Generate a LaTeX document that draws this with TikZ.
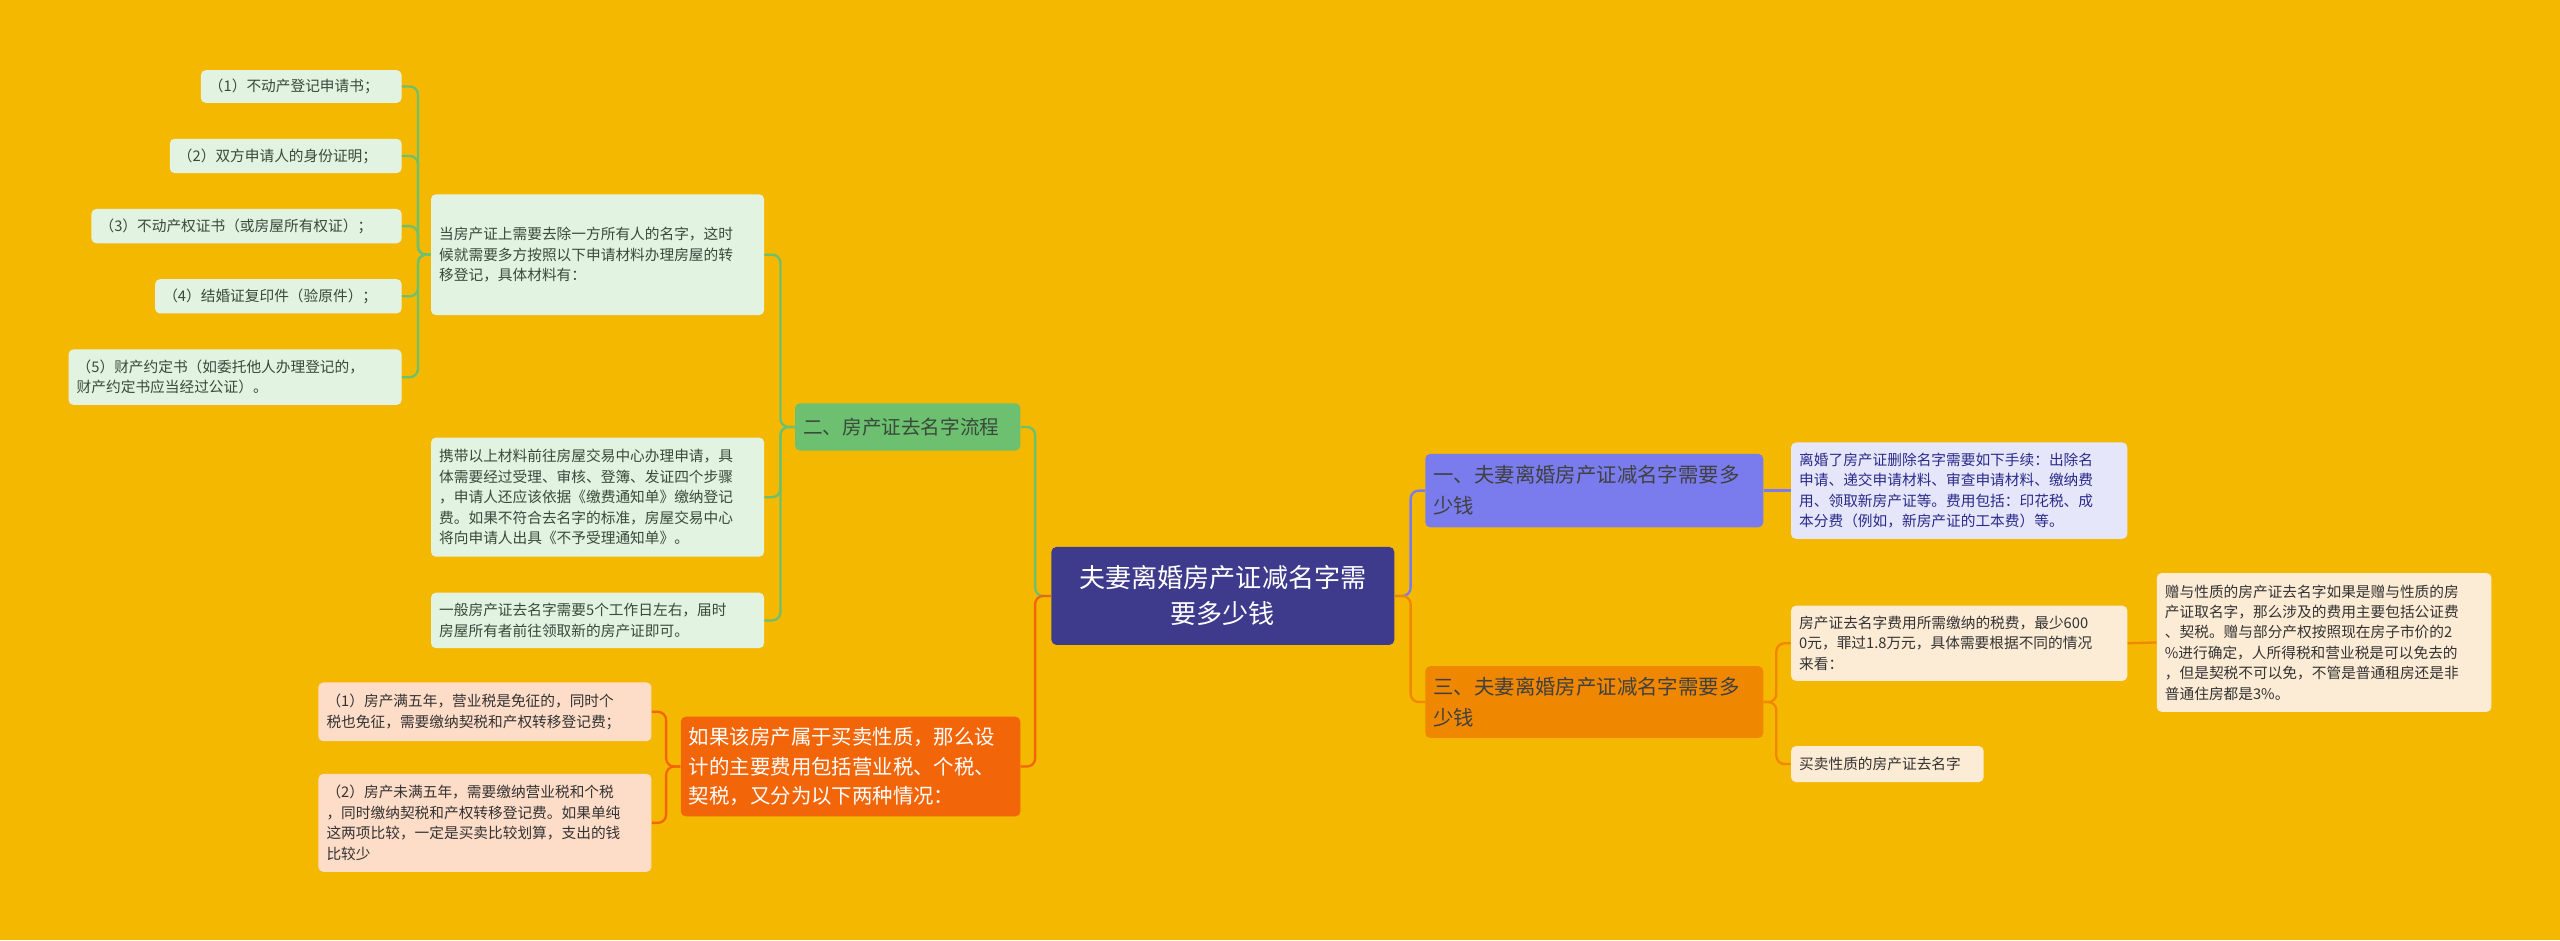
\documentclass[tikz,border=0pt]{standalone}
\usepackage{fontspec}
\newfontfamily\cjk{Noto Sans CJK SC}
\definecolor{bg}{HTML}{F5B800}
\definecolor{gline}{HTML}{6CC070}
\definecolor{gfill}{HTML}{E3F3E2}
\definecolor{gtext}{HTML}{3A4A3A}
\definecolor{ctr}{HTML}{3E3A8C}
\definecolor{pfill}{HTML}{7A7CEE}
\definecolor{pline}{HTML}{7A7CEE}
\definecolor{pleaf}{HTML}{E6E6FA}
\definecolor{ptext}{HTML}{2A2A8A}
\definecolor{ofill}{HTML}{F08700}
\definecolor{oleaf}{HTML}{FCEBD5}
\definecolor{rfill}{HTML}{F26508}
\definecolor{rleaf}{HTML}{FDDCC8}
\tikzset{
 base/.style={font=\cjk, rounded corners=3pt, align=left, inner xsep=5pt, inner ysep=2pt},
 leafG/.style={base, fill=gfill, text=gtext, font=\cjk\fontsize{9}{12.5}\selectfont},
 leafP/.style={base, fill=pleaf, text=ptext, font=\cjk\fontsize{9}{12.5}\selectfont},
 leafO/.style={base, fill=oleaf, text=black!80, font=\cjk\fontsize{9}{12.5}\selectfont},
 leafR/.style={base, fill=rleaf, text=black!80, font=\cjk\fontsize{9}{12.5}\selectfont},
 br/.style={base, font=\cjk\fontsize{12}{17}\selectfont},
 con/.style={line width=1.4pt, rounded corners=5pt},
}
\begin{document}
\begin{tikzpicture}[x=1pt,y=-1pt]
\fill[bg] (0,0) rectangle (1568,576);
\useasboundingbox (0,0) rectangle (1568,576);
% center
\node[base, fill=ctr, text=white, font=\cjk\fontsize{16}{22}\selectfont, align=center, text width=200pt, minimum height=60pt] (c) at (749,365) {夫妻离婚房产证减名字需\\要多少钱};
% left green branch
\node[br, fill=gline!90!black!95, fill=gline, text=gtext, text width=128pt, minimum height=29pt] (n2) at (556,261.5) {二、房产证去名字流程};
\node[leafG, text width=194pt, minimum height=74pt] (b1) at (366,156) {当房产证上需要去除一方所有人的名字，这时\\候就需要多方按照以下申请材料办理房屋的转\\移登记，具体材料有：};
\node[leafG, text width=194pt, minimum height=73pt] (b2) at (366,304.5) {携带以上材料前往房屋交易中心办理申请，具\\体需要经过受理、审核、登簿、发证四个步骤\\，申请人还应该依据《缴费通知单》缴纳登记\\费。如果不符合去名字的标准，房屋交易中心\\将向申请人出具《不予受理通知单》。};
\node[leafG, text width=194pt, minimum height=34pt] (b3) at (366,380) {一般房产证去名字需要5个工作日左右，届时\\房屋所有者前往领取新的房产证即可。};
\node[leafG, text width=113pt, minimum height=20pt] (a1) at (184.5,53) {（1）不动产登记申请书；};
\node[leafG, text width=132pt, minimum height=21pt] (a2) at (175,95.5) {（2）双方申请人的身份证明；};
\node[leafG, text width=180pt, minimum height=21pt] (a3) at (151,138.5) {（3）不动产权证书（或房屋所有权证）；};
\node[leafG, text width=141pt, minimum height=21pt] (a4) at (170.5,181.5) {（4）结婚证复印件（验原件）；};
\node[leafG, text width=194pt, minimum height=34pt] (a5) at (144,231) {（5）财产约定书（如委托他人办理登记的，\\财产约定书应当经过公证）。};
% left red branch
\node[br, fill=rfill, text=white, font=\cjk\fontsize{12.5}{18}\selectfont, text width=198pt, minimum height=61pt] (n4) at (521,469.5) {如果该房产属于买卖性质，那么设\\计的主要费用包括营业税、个税、\\契税，又分为以下两种情况：};
\node[leafR, text width=194pt, minimum height=36pt] (r1) at (297,436) {（1）房产满五年，营业税是免征的，同时个\\税也免征，需要缴纳契税和产权转移登记费；};
\node[leafR, text width=194pt, minimum height=60pt] (r2) at (297,504) {（2）房产未满五年，需要缴纳营业税和个税\\，同时缴纳契税和产权转移登记费。如果单纯\\这两项比较，一定是买卖比较划算，支出的钱\\比较少};
% right purple
\node[br, fill=pfill, text=black!75, font=\cjk\fontsize{12.5}{19}\selectfont, text width=197pt, minimum height=45pt] (n1) at (976.5,300.5) {一、夫妻离婚房产证减名字需要多\\少钱};
\node[leafP, text width=196pt, minimum height=59pt] (d1) at (1200,300.5) {离婚了房产证删除名字需要如下手续：出除名\\申请、递交申请材料、审查申请材料、缴纳费\\用、领取新房产证等。费用包括：印花税、成\\本分费（例如，新房产证的工本费）等。};
% right orange
\node[br, fill=ofill, text=black!75, font=\cjk\fontsize{12.5}{19}\selectfont, text width=197pt, minimum height=44pt] (n3) at (976.5,430) {三、夫妻离婚房产证减名字需要多\\少钱};
\node[leafO, text width=196pt, minimum height=46pt] (e1) at (1200,394) {房产证去名字费用所需缴纳的税费，最少600\\0元，罪过1.8万元，具体需要根据不同的情况\\来看：};
\node[leafO, text width=108pt, minimum height=22pt] (e2) at (1156,468) {买卖性质的房产证去名字};
\node[leafO, text width=195pt, minimum height=85pt] (f1) at (1423.5,393.5) {赠与性质的房产证去名字如果是赠与性质的房\\产证取名字，那么涉及的费用主要包括公证费\\、契税。赠与部分产权按照现在房子市价的2\\\%进行确定，人所得税和营业税是可以免去的\\，但是契税不可以免，不管是普通租房还是非\\普通住房都是3\%。};
% connectors
\draw[con, gline] (c.west) -- (634,365) |- (n2.east);
\draw[con, rfill] (c.west) -- (634,365) |- (n4.east);
\draw[con, pline] (c.east) -- (864,365) |- (n1.west);
\draw[con, ofill] (c.east) -- (864,365) |- (n3.west);
\foreach \t in {b1,b2,b3} \draw[con, gline] (n2.west) -- (478,261.5) |- (\t.east);
\foreach \t in {a1,a2,a3,a4,a5} \draw[con, gline] (b1.west) -- (256,156) |- (\t.east);
\foreach \t in {r1,r2} \draw[con, rfill] (n4.west) -- (408,469.5) |- (\t.east);
\draw[con, pline] (n1.east) -- (d1.west);
\foreach \t in {e1,e2} \draw[con, ofill] (n3.east) -- (1088,430) |- (\t.west);
\draw[con, ofill] (e1.east) -- (f1.west);
\end{tikzpicture}
\end{document}
